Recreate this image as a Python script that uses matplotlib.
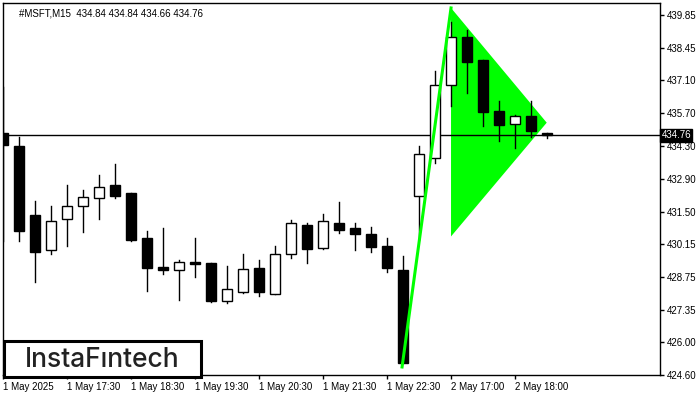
import numpy as np
import matplotlib.pyplot as plt
from matplotlib.patches import Rectangle, Polygon

# M15 candles (open, high, low, close)
opens = [434.87, 434.32, 431.36, 429.88, 431.23, 431.78, 432.08, 432.67, 432.29, 430.39,
         429.16, 429.04, 429.37, 429.33, 427.73, 428.11, 429.12, 428.02, 429.71, 430.94,
         429.97, 431.06, 430.81, 430.56, 430.05, 429.04, 432.20, 433.81, 436.89, 438.92,
         437.95, 435.79, 435.25, 435.58, 434.84]
highs = [436.81, 434.70, 431.99, 431.74, 432.63, 432.42, 433.09, 433.56, 432.33, 430.68,
         430.81, 429.46, 430.39, 429.33, 429.21, 429.71, 429.46, 430.05, 431.15, 431.06,
         431.40, 431.91, 431.02, 430.85, 430.39, 429.63, 434.32, 437.48, 439.55, 439.22,
         437.95, 436.22, 435.63, 436.22, 434.84]
lows = [430.26, 430.26, 428.53, 429.71, 430.05, 430.64, 431.19, 432.08, 430.28, 428.15,
        428.87, 427.77, 428.74, 427.69, 427.64, 428.08, 427.94, 428.02, 429.54, 429.33,
        429.92, 430.60, 429.88, 429.80, 428.95, 425.11, 430.30, 433.60, 436.01, 436.56,
        435.16, 434.53, 434.23, 434.70, 434.66]
closes = [434.36, 430.68, 429.80, 431.11, 431.78, 432.16, 432.58, 432.20, 430.30, 429.12,
          429.04, 429.37, 429.29, 427.73, 428.23, 429.08, 428.11, 429.71, 431.06, 429.92,
          431.11, 430.73, 430.56, 430.01, 429.12, 425.11, 433.98, 436.89, 438.92, 437.86,
          435.75, 435.20, 435.58, 434.95, 434.76]

last_price = 434.76
yticks = [439.85, 438.45, 437.10, 435.70, 434.30, 432.90, 431.50, 430.15,
          428.75, 427.35, 426.00, 424.60]
xtick_pos = [0, 4, 8, 12, 16, 20, 24, 28, 32]
xtick_labels = ['1 May 2025', '1 May 17:30', '1 May 18:30', '1 May 19:30',
                '1 May 20:30', '1 May 21:30', '1 May 22:30', '2 May 17:00',
                '2 May 18:00']

# bullish pennant: pole and triangle
pole_x = [24.94, 28.0]
pole_y = [424.94, 440.15]
tri_x = [28.0, 33.98, 28.0]
tri_y = [440.15, 435.29, 430.47]

fig = plt.figure(figsize=(7, 4), dpi=100)
ax = fig.add_axes([3 / 700, 25 / 400, 657 / 700, 372 / 400])

ax.add_patch(Polygon(list(zip(tri_x, tri_y)), closed=True, facecolor='#00ff00',
                     edgecolor='none', zorder=1))

w = 0.66
for i in range(len(opens)):
    o, h, l, c = opens[i], highs[i], lows[i], closes[i]
    ax.plot([i, i], [l, h], color='black', lw=1, zorder=2)
    bottom = min(o, c)
    height = max(abs(c - o), 0.06)
    fc = 'white' if c > o else 'black'
    ax.add_patch(Rectangle((i - w / 2, bottom), w, height, facecolor=fc,
                           edgecolor='black', lw=1, zorder=3))

ax.plot(pole_x, pole_y, color='#00ff00', lw=2.2, zorder=4)
ax.axhline(last_price, color='black', lw=1, zorder=2)

ax.set_xlim(0, 41.06)
ax.set_ylim(424.60, 440.36)

ax.yaxis.tick_right()
ax.set_yticks(yticks)
ax.set_yticklabels(['%.2f' % v for v in yticks])
ax.set_xticks(xtick_pos)
ax.set_xticklabels(xtick_labels, ha='left')
ax.tick_params(axis='both', length=3, width=1, labelsize=7, pad=2,
               colors='black')
for lab in ax.get_xticklabels() + ax.get_yticklabels():
    lab.set_family('Liberation Sans')
for sp in ax.spines.values():
    sp.set_linewidth(1)

# current price tag
ax.text(1.002, (last_price - 424.60) / (440.36 - 424.60), '%.2f' % last_price,
        transform=ax.transAxes, ha='left', va='center', color='white',
        fontsize=7, family='Liberation Sans',
        bbox=dict(boxstyle='square,pad=0.15', facecolor='black', edgecolor='black'))

ax.text(0.024, 0.972, '#MSFT,M15  434.84 434.84 434.66 434.76', transform=ax.transAxes,
        ha='left', va='center', fontsize=7, family='Liberation Sans', color='black')

# logo box
fig.patches.append(Rectangle((4 / 700, 23 / 400), 197 / 700, 36 / 400, transform=fig.transFigure,
                             facecolor='white', edgecolor='black', lw=2.2, zorder=10))
fig.text(102 / 700, 40 / 400, 'InstaFıntech', ha='center', va='center', fontsize=19,
         family='Inter', weight='medium', color='#222222', zorder=11)

fig.savefig('out.png', dpi=100)
